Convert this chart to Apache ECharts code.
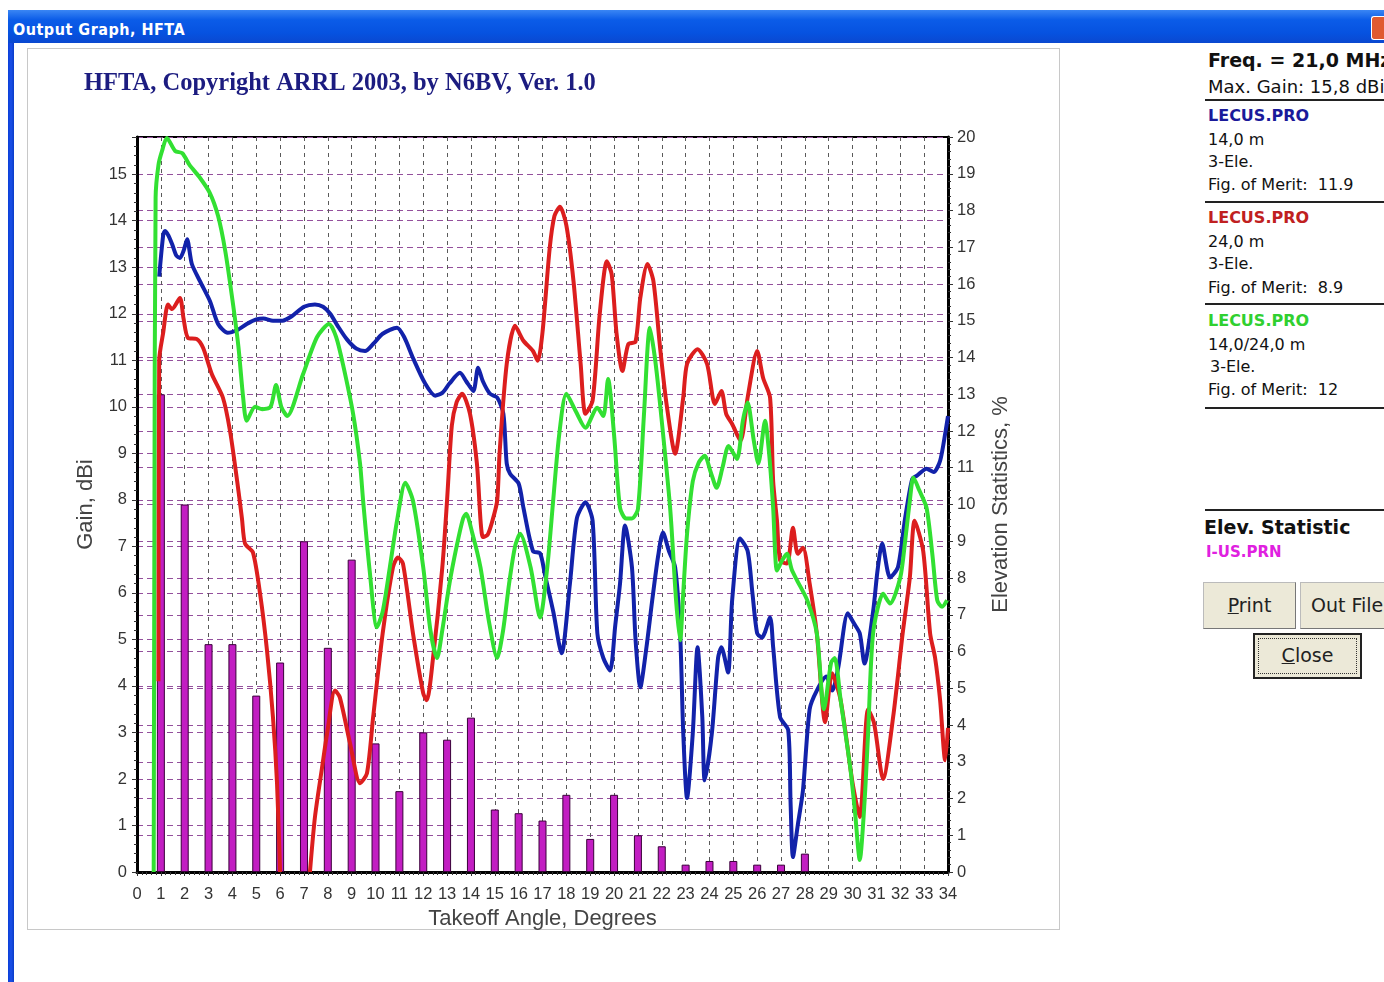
<!DOCTYPE html>
<html>
<head>
<meta charset="utf-8">
<script src="https://cdn.jsdelivr.net/npm/echarts@6/dist/echarts.min.js"></script>
<style>
html,body{margin:0;padding:0;width:1384px;height:982px;overflow:hidden;background:#fff;font-family:"DejaVu Sans",Verdana,sans-serif;}
#strip{position:absolute;left:8px;top:10px;width:6px;height:972px;background:linear-gradient(90deg,#0a3fd8,#1a50e8,#0a3cc8);}
#titlebar{position:absolute;left:8px;top:10px;width:1376px;height:33px;background:linear-gradient(#3a86f4,#0b5ce8 30%,#0652e0 70%,#0a48d0);}
#titlebar span{position:absolute;left:5px;top:10px;color:#fff;font-weight:bold;font-size:16px;font-family:"DejaVu Sans Condensed","DejaVu Sans",sans-serif;letter-spacing:0.5px;}
#xbtn{position:absolute;left:1371px;top:16px;width:13px;height:22px;background:#e05a30;border:1px solid #fff;border-right:none;border-radius:3px 0 0 3px;}
#panel{position:absolute;left:27px;top:48px;width:1031px;height:880px;border:1.5px solid #c8c8c8;background:#fff;}
#chart{position:absolute;left:27px;top:48px;width:1033px;height:900px;}
.rp{position:absolute;left:1208px;white-space:nowrap;color:#111;font-size:16px;font-family:"DejaVu Sans",sans-serif;}
.hr{position:absolute;left:1205px;width:179px;height:2px;background:#222;}
.btn{position:absolute;background:#ece9d8;border:1px solid #bbb;border-right-color:#777;border-bottom-color:#777;box-sizing:border-box;font-size:19px;color:#222;text-align:center;font-family:"DejaVu Sans",sans-serif;}
</style>
</head>
<body>
<div id="strip"></div>
<div id="titlebar"><span>Output Graph, HFTA</span></div>
<div id="xbtn"></div>
<div id="panel"></div>
<div id="chart"></div>

<div class="rp" style="top:49px;font-weight:bold;font-size:19px;">Freq. = 21,0 MHz</div>
<div class="rp" style="top:76px;font-size:18px;">Max. Gain: 15,8 dBi</div>
<div class="hr" style="top:99px;"></div>
<div class="rp" style="top:106px;font-weight:bold;color:#1a1a9a;">LECUS.PRO</div>
<div class="rp" style="top:130px;">14,0 m</div>
<div class="rp" style="top:152px;">3-Ele.</div>
<div class="rp" style="top:175px;">Fig. of Merit:&nbsp; 11.9</div>
<div class="hr" style="top:201px;"></div>
<div class="rp" style="top:208px;font-weight:bold;color:#c02020;">LECUS.PRO</div>
<div class="rp" style="top:232px;">24,0 m</div>
<div class="rp" style="top:254px;">3-Ele.</div>
<div class="rp" style="top:278px;">Fig. of Merit:&nbsp; 8.9</div>
<div class="hr" style="top:303px;"></div>
<div class="rp" style="top:311px;font-weight:bold;color:#30d030;">LECUS.PRO</div>
<div class="rp" style="top:335px;">14,0/24,0 m</div>
<div class="rp" style="top:357px;left:1210px;">3-Ele.</div>
<div class="rp" style="top:380px;">Fig. of Merit:&nbsp; 12</div>
<div class="hr" style="top:407px;"></div>
<div class="hr" style="top:509px;"></div>
<div class="rp" style="top:516px;left:1204px;font-weight:bold;font-size:19px;">Elev. Statistic</div>
<div class="rp" style="top:543px;left:1206px;font-weight:bold;color:#e020e0;font-size:15px;">I-US.PRN</div>
<div class="btn" style="left:1203px;top:582px;width:93px;height:47px;line-height:45px;"><u>P</u>rint</div>
<div class="btn" style="left:1300px;top:582px;width:100px;height:47px;line-height:45px;text-align:left;padding-left:10px;">Out File</div>
<div class="btn" style="left:1253px;top:633px;width:109px;height:46px;line-height:40px;border:2px solid #222;"><div style="position:absolute;left:3px;top:3px;right:3px;bottom:3px;border:1px dotted #333;"></div><u>C</u>lose</div>

<script>
// ---- Data ----
const xTicks = [0,1,2,3,4,5,6,7,8,9,10,11,12,13,14,15,16,17,18,19,20,21,22,23,24,25,26,27,28,29,30,31,32,33,34];
const statAngles = [1,2,3,4,5,6,7,8,9,10,11,12,13,14,15,16,17,18,19,20,21,22,23,24,25,26,27,28];
const statPercent = [13.0,10.0,6.2,6.2,4.8,5.7,9.0,6.1,8.5,3.5,2.2,3.8,3.6,4.2,1.7,1.6,1.4,2.1,0.9,2.1,1.0,0.7,0.2,0.3,0.3,0.2,0.2,0.5];

// 14,0 m (blue)
const gain14 = [[0.93,12.8],[1.1,13.7],[1.17,13.78],[1.3,13.7],[1.47,13.5],[1.65,13.25],[1.8,13.2],[1.95,13.35],[2.1,13.6],[2.3,13.07],[2.64,12.7],[3.06,12.27],[3.4,11.78],[3.8,11.59],[4.2,11.65],[4.6,11.78],[5.0,11.88],[5.3,11.9],[5.7,11.85],[6.1,11.85],[6.5,11.95],[7.0,12.15],[7.46,12.2],[7.8,12.15],[8.1,12.0],[8.4,11.75],[8.8,11.45],[9.2,11.25],[9.56,11.2],[9.9,11.35],[10.3,11.57],[10.9,11.7],[11.2,11.5],[11.57,11.05],[12.08,10.5],[12.5,10.24],[12.8,10.3],[13.1,10.5],[13.54,10.73],[13.8,10.55],[14.1,10.34],[14.3,10.84],[14.5,10.55],[14.8,10.28],[15.1,10.2],[15.36,9.85],[15.5,8.78],[15.64,8.56],[16.0,8.35],[16.2,7.83],[16.6,6.9],[16.9,6.85],[17.1,6.4],[17.45,5.6],[17.8,4.7],[18.15,6.2],[18.44,7.6],[18.8,7.95],[19.1,7.55],[19.3,5.13],[19.55,4.6],[19.83,4.33],[20.05,5.3],[20.25,6.2],[20.46,7.45],[20.75,6.55],[20.9,5.0],[21.1,3.97],[21.35,4.8],[21.6,5.84],[21.85,6.8],[22.05,7.3],[22.3,6.9],[22.56,6.55],[22.77,5.13],[22.9,3.0],[23.06,1.59],[23.3,2.98],[23.5,4.83],[23.7,3.33],[23.8,1.97],[24.1,2.98],[24.36,4.6],[24.5,4.83],[24.78,4.29],[24.95,5.84],[25.28,7.17],[25.6,6.9],[25.8,6.0],[26.0,5.13],[26.2,5.04],[26.54,5.47],[26.67,4.83],[26.96,3.33],[27.3,3.05],[27.4,1.5],[27.5,0.32],[27.7,1.0],[27.92,1.76],[28.2,3.5],[28.5,3.9],[28.9,4.2],[29.15,3.9],[29.4,4.4],[29.8,5.56],[30.05,5.35],[30.3,5.13],[30.5,4.48],[30.86,5.6],[31.05,6.5],[31.24,7.06],[31.57,6.33],[31.9,6.55],[32.2,7.6],[32.5,8.45],[32.7,8.52],[33.1,8.67],[33.4,8.6],[33.67,8.84],[33.9,9.48],[34.0,9.8]];

// 24,0 m (red) — dips below the axis between ~6 and ~7.2 degrees
const gain24 = [[0.9,4.1],[0.93,11.0],[1.1,11.6],[1.3,12.2],[1.47,12.1],[1.8,12.34],[1.95,11.9],[2.14,11.48],[2.5,11.46],[2.77,11.27],[3.14,10.7],[3.6,10.2],[3.9,9.48],[4.2,8.4],[4.4,7.6],[4.53,7.06],[4.86,6.87],[5.16,5.98],[5.45,4.76],[5.7,3.33],[5.87,1.91],[6.0,0],[6.6,null],[7.25,0],[7.46,1.18],[7.76,2.25],[7.97,2.98],[8.3,3.9],[8.5,3.76],[8.93,2.77],[9.35,1.91],[9.64,2.12],[9.9,3.33],[10.3,5.13],[10.73,6.55],[10.94,6.76],[11.15,6.63],[11.57,5.13],[12.0,3.84],[12.15,3.69],[12.4,4.55],[12.8,6.55],[13.0,8.0],[13.2,9.6],[13.4,10.1],[13.63,10.28],[13.96,9.85],[14.25,8.78],[14.5,7.2],[14.7,7.25],[14.9,7.55],[15.1,7.98],[15.2,9.0],[15.5,10.92],[15.85,11.74],[16.2,11.42],[16.6,11.2],[16.8,10.99],[17.0,11.6],[17.3,13.4],[17.5,14.1],[17.73,14.3],[18.0,13.9],[18.3,12.7],[18.6,10.92],[18.8,9.85],[19.1,10.13],[19.4,12.0],[19.7,13.13],[19.9,12.85],[20.1,11.6],[20.35,10.77],[20.6,11.35],[20.9,11.4],[21.1,12.34],[21.4,13.07],[21.65,12.7],[21.93,11.27],[22.2,10.06],[22.56,8.99],[22.9,10.2],[23.06,10.92],[23.5,11.24],[23.9,10.92],[24.23,10.06],[24.5,10.34],[24.7,9.85],[24.95,9.63],[25.3,9.27],[25.6,10.2],[26.0,11.2],[26.25,10.62],[26.54,10.2],[26.67,8.4],[26.83,7.55],[26.96,6.7],[27.25,6.63],[27.5,7.4],[27.7,6.84],[27.92,6.97],[28.2,6.2],[28.5,5.13],[28.85,3.22],[29.14,4.27],[29.5,3.69],[30.0,1.91],[30.3,1.18],[30.65,3.5],[30.9,3.2],[31.28,2.0],[31.7,3.33],[32.1,5.13],[32.4,6.33],[32.6,7.55],[32.96,6.9],[33.25,5.13],[33.46,4.6],[33.67,3.69],[33.88,2.4],[34.0,3.1]];

// 14,0/24,0 m (green)
const gainCombo = [[0.7,0],[0.73,7.5],[0.78,14.5],[0.9,15.2],[1.05,15.5],[1.25,15.78],[1.6,15.5],[1.9,15.45],[2.2,15.2],[2.6,14.95],[3.05,14.6],[3.4,14.1],[3.7,13.35],[4.0,12.3],[4.25,11.3],[4.45,10.2],[4.6,9.7],[4.95,10.0],[5.25,9.95],[5.6,10.0],[5.83,10.47],[6.05,10.0],[6.3,9.8],[6.96,10.7],[7.55,11.5],[8.05,11.78],[8.35,11.5],[8.64,10.9],[9.06,9.85],[9.35,8.78],[9.48,7.98],[9.75,6.5],[10.06,5.26],[10.3,5.6],[10.6,6.55],[10.9,7.55],[11.25,8.37],[11.57,7.98],[12.0,6.55],[12.3,5.2],[12.58,4.6],[12.8,5.2],[13.1,6.2],[13.4,7.0],[13.67,7.6],[13.8,7.7],[14.05,7.3],[14.4,6.55],[14.75,5.4],[15.1,4.6],[15.35,5.2],[15.6,6.2],[15.85,7.0],[16.06,7.27],[16.5,6.55],[16.9,5.47],[17.2,6.55],[17.45,8.0],[17.7,9.4],[18.0,10.28],[18.4,9.9],[18.8,9.55],[19.3,9.98],[19.55,9.8],[19.75,10.6],[20.0,9.4],[20.25,7.83],[20.5,7.6],[20.75,7.6],[21.0,7.8],[21.25,9.8],[21.5,11.7],[21.7,11.1],[21.9,10.2],[22.35,7.83],[22.6,5.84],[22.77,4.98],[22.9,6.0],[23.06,7.27],[23.3,8.4],[23.55,8.8],[23.8,8.95],[24.05,8.6],[24.3,8.26],[24.55,8.7],[24.8,9.16],[25.15,8.88],[25.4,9.7],[25.6,10.09],[25.85,9.3],[26.05,8.78],[26.33,9.7],[26.5,9.0],[26.67,7.83],[26.83,6.48],[27.05,6.7],[27.25,6.84],[27.45,6.5],[27.67,6.27],[28.1,5.84],[28.5,5.13],[28.8,3.5],[29.1,4.5],[29.25,4.6],[29.5,3.69],[29.9,2.25],[30.1,1.3],[30.3,0.26],[30.5,1.5],[30.65,2.98],[30.86,5.13],[31.28,5.98],[31.57,5.77],[32.0,6.33],[32.2,7.1],[32.4,7.98],[32.55,8.48],[32.8,8.2],[33.1,7.83],[33.35,6.8],[33.55,5.84],[33.75,5.7],[33.96,5.84]];

const gainMax = 15.8;
const statMax = 20;

// ---- Chart ----
const chart = echarts.init(document.getElementById('chart'), null, {renderer:'canvas'});
const tickFont = {fontFamily:'Liberation Sans, Arial, sans-serif', fontSize:16.5, color:'#333'};
const nameFont = {fontFamily:'Liberation Sans, Arial, sans-serif', fontSize:22, color:'#444'};
const hGrid = {show:true, lineStyle:{color:'#94509c', type:[6,4], width:1}};
const minor = {show:true, splitNumber:5, length:3, lineStyle:{color:'#333', width:1}};

chart.setOption({
  animation:false,
  backgroundColor:'transparent',
  title:{text:'HFTA, Copyright ARRL 2003, by N6BV, Ver. 1.0', left:52, top:18,
    textStyle:{fontFamily:'Liberation Serif, Times New Roman, serif', fontSize:24.5, fontWeight:'bold', color:'#1c1c80'}},
  grid:{left:110, top:89, width:811, height:735, show:true, borderColor:'#000', borderWidth:2,
    backgroundColor:'transparent', containLabel:false, outerBoundsMode:'none'},
  xAxis:{type:'value', min:0, max:34, interval:1,
    name:'Takeoff Angle, Degrees', nameLocation:'middle', nameGap:36, nameTextStyle:nameFont,
    axisLine:{show:true, onZero:false, lineStyle:{color:'#000', width:3}},
    axisTick:{show:true, length:4, lineStyle:{color:'#333'}},
    minorTick:minor,
    axisLabel:Object.assign({margin:14, formatter:v=> xTicks.includes(v)? String(v):''}, tickFont),
    splitLine:{show:true, lineStyle:{color:'#5a5a5a', type:[4,4], width:1}}},
  yAxis:[
    {type:'value', min:0, max:gainMax, interval:1, position:'left',
      name:'Gain, dBi', nameLocation:'middle', nameGap:40, nameTextStyle:nameFont,
      axisLine:{show:true, lineStyle:{color:'#000', width:3}},
      axisTick:{show:true, length:5, lineStyle:{color:'#333'}},
      minorTick:minor,
      axisLabel:Object.assign({margin:10, formatter:v=> Number.isInteger(v)? String(v):''}, tickFont),
      splitLine:hGrid},
    {type:'value', min:0, max:statMax, interval:1, position:'right',
      name:'Elevation Statistics, %', nameLocation:'middle', nameGap:42, nameTextStyle:nameFont,
      axisLine:{show:true, lineStyle:{color:'#000', width:3}},
      axisTick:{show:true, length:5, lineStyle:{color:'#333'}},
      minorTick:minor,
      axisLabel:Object.assign({margin:9}, tickFont),
      splitLine:hGrid}
  ],
  series:[
    {type:'bar', yAxisIndex:1, barWidth:8, data:statAngles.map((a,i)=>[a,statPercent[i]]),
      itemStyle:{color:'#c21ec2', borderColor:'#3a003a', borderWidth:1}, z:2},
    {type:'line', yAxisIndex:0, data:gain14, showSymbol:false, smooth:0.25, connectNulls:false,
      lineStyle:{color:'#1222aa', width:4}, z:3},
    {type:'line', yAxisIndex:0, data:gain24, showSymbol:false, smooth:0.25, connectNulls:false,
      lineStyle:{color:'#dc1e1e', width:4}, z:4},
    {type:'line', yAxisIndex:0, data:gainCombo, showSymbol:false, smooth:0.25, connectNulls:false,
      lineStyle:{color:'#32e032', width:4}, z:5}
  ]
});
</script>
</body>
</html>
